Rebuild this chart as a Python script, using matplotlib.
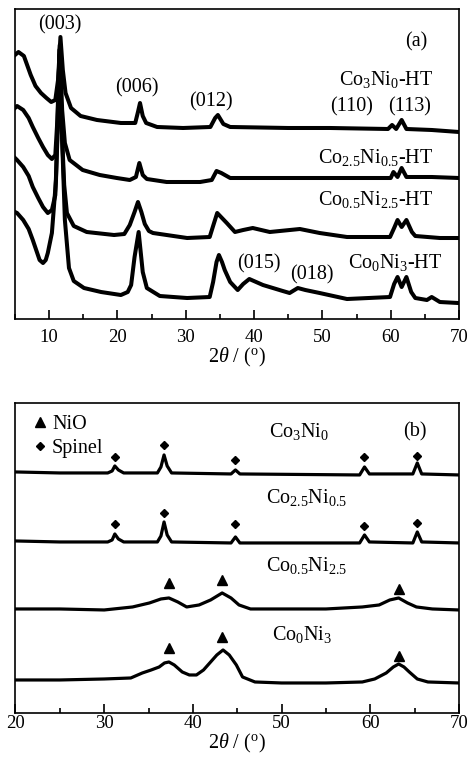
import matplotlib
matplotlib.use('Agg')
import matplotlib.pyplot as plt
from matplotlib.lines import Line2D
from matplotlib.ticker import MultipleLocator

plt.rcParams['font.family'] = ['Liberation Serif', 'DejaVu Serif']
plt.rcParams['mathtext.fontset'] = 'custom'
plt.rcParams['mathtext.rm'] = 'Liberation Serif'
plt.rcParams['mathtext.it'] = 'Liberation Serif:italic'

# ---- (a) LDH precursors: 2theta / intensity (a.u., stacked) ----
a_co3ni0_x = [5.0, 5.5, 6.3, 7.3, 8.0, 8.8, 9.6, 10.3, 10.9, 11.3, 11.65, 12.0, 12.4, 13.2, 14.6, 17.0, 20.5,
              22.6, 23.0, 23.3, 23.7, 24.2, 25.8, 29.6, 33.6, 34.3, 34.7, 35.5, 36.5, 45.0, 51.1, 59.6, 60.2,
              60.8, 61.6, 62.3, 66.0, 70.0]
a_co3ni0_y = [264, 267, 263, 244, 233, 226, 221, 217, 219, 239, 282, 249, 226, 211, 203, 199, 196,
              196, 207, 216, 203, 196, 192, 191, 192, 201, 204, 195, 192, 191, 191, 190, 194,
              190, 199, 190, 189, 187]

a_co25ni05_x = [5.0, 5.3, 6.2, 7.0, 7.6, 8.4, 9.1, 9.8, 10.4, 10.9, 11.2, 11.55, 11.9, 12.3, 13.0, 14.9, 17.4,
                19.9, 21.8, 22.7, 23.2, 23.7, 24.3, 27.2, 32.1, 33.8, 34.5, 35.2, 36.5, 46.0, 56.0, 60.0,
                60.4, 61.0, 61.6, 62.3, 66.0, 70.0]
a_co25ni05_y = [211, 213, 209, 201, 192, 181, 172, 164, 160, 164, 199, 274, 209, 176, 159, 149, 144,
                141, 139, 142, 156, 144, 140, 137, 137, 139, 148, 146, 141, 141, 141, 141,
                147, 142, 151, 142, 142, 141]

a_co05ni25_x = [5.0, 5.3, 6.2, 7.0, 7.6, 8.4, 9.1, 9.8, 10.4, 10.9, 11.2, 11.5, 11.85, 12.2, 12.6, 13.6, 15.5,
                19.5, 21.0, 21.8, 22.5, 23.0, 23.5, 24.0, 24.6, 25.2, 30.2, 33.5, 34.0, 34.6, 35.3, 36.0,
                37.2, 38.4, 39.8, 42.3, 46.7, 49.6, 53.6, 59.9, 60.5, 61.0, 61.6, 62.3, 63.1, 63.6, 67.2, 70.0]
a_co05ni25_y = [161, 159, 152, 143, 132, 121, 112, 106, 109, 124, 179, 269, 189, 134, 106, 93, 87,
                84, 85, 94, 107, 117, 107, 95, 88, 86, 81, 82, 93, 106, 101, 96,
                87, 89, 91, 87, 90, 86, 82, 82, 91, 99, 92, 99, 87, 83, 81, 81]

a_co0ni3_x = [5.0, 5.3, 6.2, 7.0, 7.6, 8.2, 8.6, 9.1, 9.5, 9.8, 10.4, 11.0, 11.5, 11.9, 12.3, 12.9, 13.6, 15.1,
              17.6, 20.5, 21.5, 22.0, 22.5, 23.1, 23.7, 24.3, 26.2, 30.2, 33.5, 34.0, 34.5, 34.85, 35.3, 35.7,
              36.5, 37.6, 38.4, 39.3, 40.3, 41.3, 44.2, 45.2, 46.4, 47.5, 49.6, 53.6, 59.9, 60.5, 61.0,
              61.6, 62.3, 63.0, 63.6, 65.3, 66.0, 67.2, 69.9]
a_co0ni3_y = [107, 106, 99, 90, 79, 67, 59, 56, 59, 66, 86, 139, 264, 179, 99, 51, 38, 31,
              27, 24, 27, 34, 62, 87, 47, 31, 23, 21, 22, 37, 57, 64, 57, 49,
              37, 29, 35, 40, 37, 34, 28, 26, 31, 29, 26, 20, 22, 35, 42,
              32, 42, 27, 21, 19, 22, 17, 16]

a_curves = [(a_co3ni0_x, a_co3ni0_y), (a_co25ni05_x, a_co25ni05_y),
            (a_co05ni25_x, a_co05ni25_y), (a_co0ni3_x, a_co0ni3_y)]

# ---- (b) calcined oxides ----
b_spl_x = [20, 25, 30.4, 30.9, 31.2, 31.6, 32.2, 36.0, 36.4, 36.75, 37.1, 37.6, 44.3, 44.8, 45.3,
           58.8, 59.35, 59.9, 64.8, 65.3, 65.8, 70]
b_co3ni0_y = [241, 240, 240, 242, 247, 243, 240, 240, 246, 258, 247, 240, 239, 243, 239,
              238, 246, 239, 239, 250, 239, 238]
b_co25ni05_y = [172, 171, 171, 173, 179, 174, 171, 171, 177, 191, 178, 171, 170, 176, 170,
                170, 178, 171, 170, 181, 171, 170]

b_co05ni25_x = [20, 25, 30, 33.2, 35.1, 36.4, 37.3, 38.3, 39.3, 40.7, 42.0, 43.3, 44.3, 45.2, 46.5,
                50, 55, 59.1, 61.0, 62.2, 63.2, 64.2, 65.2, 67, 70]
b_co05ni25_y = [104, 104, 103, 106, 110, 114, 115, 111, 106, 108, 113, 120, 115, 108, 104,
                104, 104, 106, 108, 113, 115, 110, 106, 104, 103]

b_co0ni3_x = [20, 25, 30, 33.0, 34.3, 35.3, 36.2, 36.8, 37.3, 37.9, 38.8, 39.6, 40.4, 41.2, 41.9, 42.7,
              43.4, 44.1, 44.9, 45.6, 47, 50, 55, 59.1, 60.5, 61.8, 62.6, 63.2, 63.8, 64.4, 65.3, 66.5, 70]
b_co0ni3_y = [33, 33, 34, 35, 40, 43, 46, 50, 51, 48, 41, 38, 38, 43, 50, 58,
              63, 58, 48, 36, 31, 30, 30, 31, 34, 40, 46, 49, 46, 41, 34, 31, 30]

b_curves = [(b_spl_x, b_co3ni0_y), (b_spl_x, b_co25ni05_y),
            (b_co05ni25_x, b_co05ni25_y), (b_co0ni3_x, b_co0ni3_y)]

# phase markers
spinel_pos = [31.2, 36.8, 44.8, 59.3, 65.3]
spinel_h1 = [256, 268, 253, 256, 257]
spinel_h2 = [189, 200, 189, 187, 190]
nio_pos = [37.3, 43.3, 63.2]
nio_h3 = [130, 133, 124]
nio_h4 = [65, 76, 57]

fig = plt.figure(figsize=(4.72, 7.61), dpi=100)
ax1 = fig.add_axes([0.0318, 0.5808, 0.9407, 0.4074])
ax2 = fig.add_axes([0.0328, 0.0631, 0.9396, 0.4074])

for x, y in a_curves:
    ax1.plot(x, y, color='k', lw=2.9, solid_joinstyle='round')
for x, y in b_curves:
    ax2.plot(x, y, color='k', lw=2.3, solid_joinstyle='round')

ax2.plot(spinel_pos, spinel_h1, 'D', color='k', ms=4.5, ls='none')
ax2.plot(spinel_pos, spinel_h2, 'D', color='k', ms=4.5, ls='none')
ax2.plot(nio_pos, nio_h3, '^', color='k', ms=7.5, ls='none')
ax2.plot(nio_pos, nio_h4, '^', color='k', ms=7.5, ls='none')

fs = 14.5
ax1.set_xlim(5, 70)
ax1.set_ylim(0, 310)
ax2.set_xlim(20, 70)
ax2.set_ylim(0, 310)

for ax in (ax1, ax2):
    ax.xaxis.set_major_locator(MultipleLocator(10))
    ax.xaxis.set_minor_locator(MultipleLocator(5))
    ax.tick_params(axis='x', which='major', direction='in', length=6.5, width=1.2, labelsize=13.5)
    ax.tick_params(axis='x', which='minor', direction='in', length=3.5, width=1.2)
    ax.set_yticks([])
    for s in ax.spines.values():
        s.set_linewidth(1.2)

ax1.tick_params(axis='x', which='major', pad=7)
ax2.tick_params(axis='x', which='major', pad=1.5)
ax1.set_xlabel(r'$2\theta$ / ($^{\rm o}$)', fontsize=fs, labelpad=0)
ax2.set_xlabel(r'$2\theta$ / ($^{\rm o}$)', fontsize=fs, labelpad=0)

# panel (a) annotations
ax1.text(11.6, 294, '(003)', fontsize=fs, ha='center', va='center')
ax1.text(22.85, 231, '(006)', fontsize=fs, ha='center', va='center')
ax1.text(33.7, 217, '(012)', fontsize=fs, ha='center', va='center')
ax1.text(54.3, 212, '(110)', fontsize=fs, ha='center', va='center')
ax1.text(62.7, 212, '(113)', fontsize=fs, ha='center', va='center')
ax1.text(40.7, 55, '(015)', fontsize=fs, ha='center', va='center')
ax1.text(48.5, 44, '(018)', fontsize=fs, ha='center', va='center')
ax1.text(63.7, 277, '(a)', fontsize=fs, ha='center', va='center')
ax1.text(66.2, 239, r'Co$_3$Ni$_0$-HT', fontsize=fs, ha='right', va='center')
ax1.text(66.2, 161, r'Co$_{2.5}$Ni$_{0.5}$-HT', fontsize=fs, ha='right', va='center')
ax1.text(66.2, 119, r'Co$_{0.5}$Ni$_{2.5}$-HT', fontsize=fs, ha='right', va='center')
ax1.text(67.5, 57, r'Co$_0$Ni$_3$-HT', fontsize=fs, ha='right', va='center')

# panel (b) annotations
ax2.text(52.0, 281, r'Co$_3$Ni$_0$', fontsize=fs, ha='center', va='center')
ax2.text(65.0, 281, '(b)', fontsize=fs, ha='center', va='center')
ax2.text(52.8, 215, r'Co$_{2.5}$Ni$_{0.5}$', fontsize=fs, ha='center', va='center')
ax2.text(52.8, 147, r'Co$_{0.5}$Ni$_{2.5}$', fontsize=fs, ha='center', va='center')
ax2.text(52.3, 78, r'Co$_0$Ni$_3$', fontsize=fs, ha='center', va='center')

handles = [Line2D([], [], marker='^', ls='none', color='k', ms=7, label='NiO'),
           Line2D([], [], marker='D', ls='none', color='k', ms=4.5, label='Spinel')]
ax2.legend(handles=handles, loc='upper left', bbox_to_anchor=(0.019, 0.987), frameon=False,
           fontsize=fs, handlelength=0.8, handletextpad=0.2, labelspacing=0.25,
           borderaxespad=0.2, borderpad=0.2)

fig.savefig('out.png', dpi=100)
